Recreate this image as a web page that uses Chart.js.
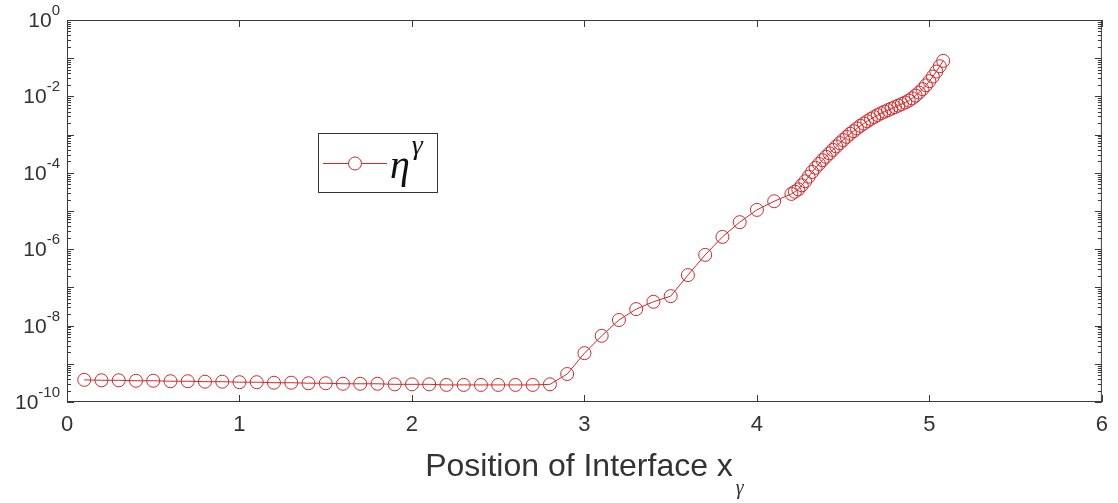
<!DOCTYPE html>
<html>
<head>
<meta charset="utf-8">
<script src="https://cdn.jsdelivr.net/npm/chart.js@4"></script>
<style>
  html, body { margin: 0; padding: 0; background: #fff; }
  #wrap { width: 1118px; height: 503px; }
</style>
</head>
<body>
<div id="wrap"><canvas id="etaChart"></canvas></div>
<script>
// positions of the interface (x_gamma)
const xValues = [
  0.1, 0.2, 0.3, 0.4, 0.5, 0.6, 0.7, 0.8, 0.9, 1.0,
  1.1, 1.2, 1.3, 1.4, 1.5, 1.6, 1.7, 1.8, 1.9, 2.0,
  2.1, 2.2, 2.3, 2.4, 2.5, 2.6, 2.7, 2.8, 2.9, 3.0,
  3.1, 3.2, 3.3, 3.4, 3.5, 3.6, 3.7, 3.8, 3.9, 4.0,
  4.1, 4.2, 4.22, 4.24, 4.26, 4.28, 4.30, 4.32, 4.34, 4.36,
  4.38, 4.40, 4.42, 4.44, 4.46, 4.48, 4.50, 4.52, 4.54, 4.56,
  4.58, 4.60, 4.62, 4.64, 4.66, 4.68, 4.70, 4.72, 4.74, 4.76,
  4.78, 4.80, 4.82, 4.84, 4.86, 4.88, 4.90, 4.92, 4.94, 4.96,
  4.98, 5.00, 5.02, 5.04, 5.06, 5.08
];

// eta^gamma
const etaValues = [
  3.8e-10, 3.7e-10, 3.7e-10, 3.6e-10, 3.6e-10, 3.5e-10, 3.5e-10, 3.4e-10, 3.4e-10, 3.3e-10,
  3.3e-10, 3.2e-10, 3.2e-10, 3.1e-10, 3.1e-10, 3.0e-10, 3.0e-10, 3.0e-10, 2.9e-10, 2.9e-10,
  2.9e-10, 2.8e-10, 2.8e-10, 2.8e-10, 2.8e-10, 2.8e-10, 2.8e-10, 2.9e-10, 5.4e-10, 1.9e-9,
  5.4e-9, 1.4e-8, 2.7e-8, 4.2e-8, 5.9e-8, 2.1e-7, 7.1e-7, 2.1e-6, 5.1e-6, 1.07e-5,
  1.8e-5, 2.8e-5, 3.2e-5, 3.7e-5, 4.7e-5, 6.0e-5, 7.9e-5, 1.05e-4, 1.35e-4, 1.7e-4,
  2.14e-4, 2.63e-4, 3.24e-4, 3.98e-4, 4.9e-4, 6.0e-4, 7.2e-4, 8.7e-4, 1.05e-3, 1.23e-3,
  1.45e-3, 1.7e-3, 1.95e-3, 2.24e-3, 2.57e-3, 2.88e-3, 3.24e-3, 3.63e-3, 3.98e-3, 4.37e-3,
  4.79e-3, 5.25e-3, 5.75e-3, 6.31e-3, 6.92e-3, 7.76e-3, 8.91e-3, 1.05e-2, 1.26e-2, 1.55e-2,
  1.95e-2, 2.51e-2, 3.31e-2, 4.47e-2, 6.17e-2, 8.51e-2
];

const xTicks = [0, 1, 2, 3, 4, 5, 6];
const yTickExponents = [0, -2, -4, -6, -8, -10];
const seriesName = '\u03B7';      // eta, with gamma superscript
const xTitle = 'Position of Interface x';
const xTitleSub = '\u03B3';

const red = 'rgb(210,40,40)';
const axisColor = '#3a3a3a';
const textColor = '#333333';

// frame, inward ticks, y labels with exponents, axis title, legend
const decorations = {
  id: 'decorations',
  afterDraw(chart) {
    const ctx = chart.ctx;
    const xs = chart.scales.x, ys = chart.scales.y;
    const a = chart.chartArea;
    ctx.save();
    ctx.strokeStyle = axisColor;
    ctx.lineWidth = 1;
    ctx.strokeRect(a.left + 0.5, a.top + 0.5, a.right - a.left - 1, a.bottom - a.top - 1);

    ctx.beginPath();
    xTicks.forEach(v => {
      const px = Math.round(xs.getPixelForValue(v)) + 0.5;
      ctx.moveTo(px, a.bottom); ctx.lineTo(px, a.bottom - 7);
      ctx.moveTo(px, a.top); ctx.lineTo(px, a.top + 7);
    });
    for (let d = -10; d <= 0; d++) {
      const py = Math.round(ys.getPixelForValue(Math.pow(10, d))) + 0.5;
      ctx.moveTo(a.left, py); ctx.lineTo(a.left + 7, py);
      ctx.moveTo(a.right, py); ctx.lineTo(a.right - 7, py);
      if (d < 0) {
        for (let m = 2; m <= 9; m++) {
          const my = Math.round(ys.getPixelForValue(m * Math.pow(10, d))) + 0.5;
          ctx.moveTo(a.left, my); ctx.lineTo(a.left + 4, my);
          ctx.moveTo(a.right, my); ctx.lineTo(a.right - 4, my);
        }
      }
    }
    ctx.stroke();

    // y tick labels 10^n
    ctx.fillStyle = textColor;
    ctx.textBaseline = 'alphabetic';
    yTickExponents.forEach(e => {
      const py = ys.getPixelForValue(Math.pow(10, e));
      const exp = String(e);
      ctx.font = '15px "Liberation Sans", Arial, sans-serif';
      const ew = ctx.measureText(exp).width;
      ctx.font = '21px "Liberation Sans", Arial, sans-serif';
      const bw = ctx.measureText('10').width;
      const right = a.left - 7;
      ctx.textAlign = 'left';
      ctx.fillText('10', right - ew - bw, py + 7);
      ctx.font = '15px "Liberation Sans", Arial, sans-serif';
      ctx.fillText(exp, right - ew, py - 5);
    });

    // x axis title with subscript gamma
    ctx.font = '32px "Liberation Sans", Arial, sans-serif';
    const tw = ctx.measureText(xTitle).width;
    ctx.font = 'italic 20px "Liberation Serif", "Times New Roman", serif';
    const sw = ctx.measureText(xTitleSub).width;
    const cx = (a.left + a.right) / 2;
    const tx = cx - (tw + sw + 3) / 2;
    ctx.font = '32px "Liberation Sans", Arial, sans-serif';
    ctx.fillText(xTitle, tx, 476);
    ctx.font = 'italic 20px "Liberation Serif", "Times New Roman", serif';
    ctx.fillText(xTitleSub, tx + tw + 3, 494);

    // legend box
    const ds = chart.data.datasets[0];
    ctx.fillStyle = '#fff';
    ctx.fillRect(318, 133, 119, 59);
    ctx.strokeStyle = '#333';
    ctx.strokeRect(318.5, 133.5, 119, 59);
    ctx.strokeStyle = ds.borderColor;
    ctx.lineWidth = 1;
    ctx.beginPath();
    ctx.moveTo(323, 163.5); ctx.lineTo(387, 163.5);
    ctx.stroke();
    ctx.fillStyle = '#fff';
    ctx.beginPath();
    ctx.arc(355, 163.5, 6.5, 0, Math.PI * 2);
    ctx.fill();
    ctx.stroke();
    ctx.fillStyle = '#111';
    ctx.font = 'italic 40px "Liberation Serif", "Times New Roman", serif';
    ctx.fillText(seriesName, 390, 178);
    const ew2 = ctx.measureText(seriesName).width;
    ctx.font = 'italic 28px "Liberation Serif", "Times New Roman", serif';
    ctx.fillText(xTitleSub, 390 + ew2 + 2, 154);
    ctx.restore();
  }
};

const ctx = document.getElementById('etaChart');

new Chart(ctx, {
  type: 'scatter',
  data: {
    datasets: [{
      label: seriesName,
      data: xValues.map((x, i) => ({ x: x, y: etaValues[i] })),
      showLine: true,
      borderColor: red,
      borderWidth: 1,
      backgroundColor: 'rgba(0,0,0,0)',
      pointRadius: 6.5,
      pointBorderWidth: 1,
      pointBorderColor: red,
      pointBackgroundColor: 'rgba(0,0,0,0)',
      tension: 0
    }]
  },
  options: {
    responsive: true,
    maintainAspectRatio: false,
    animation: false,
    layout: { padding: { top: 20, right: 11, left: 0, bottom: 0 } },
    plugins: {
      legend: { display: false },
      tooltip: { enabled: false }
    },
    scales: {
      x: {
        type: 'linear',
        min: 0,
        max: 6,
        afterFit: s => { s.height = 101; },
        afterBuildTicks: s => { s.ticks = xTicks.map(v => ({ value: v })); },
        ticks: {
          padding: 10,
          color: textColor,
          font: { family: '"Liberation Sans", Arial, sans-serif', size: 22 }
        },
        grid: { display: false, drawTicks: false },
        border: { display: false }
      },
      y: {
        type: 'logarithmic',
        min: 1e-10,
        max: 1,
        afterFit: s => { s.width = 67; },
        ticks: { display: false },
        grid: { display: false, drawTicks: false },
        border: { display: false }
      }
    }
  },
  plugins: [decorations]
});
</script>
</body>
</html>
